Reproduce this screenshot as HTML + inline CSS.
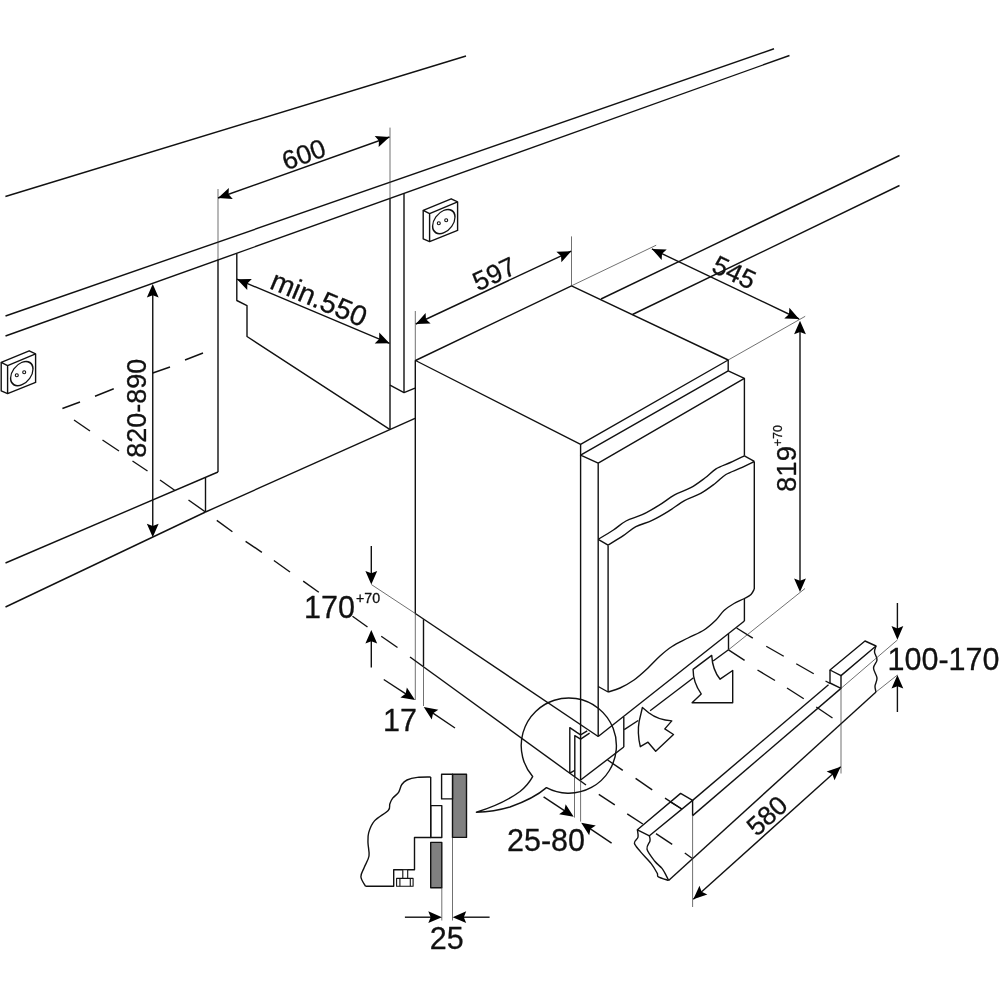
<!DOCTYPE html>
<html><head><meta charset="utf-8"><title>Installation dimensions</title>
<style>
html,body{margin:0;padding:0;background:#fff}
svg{display:block}
text{font-family:"Liberation Sans",sans-serif;fill:#111;stroke:#111;stroke-width:0.3px}
</style></head><body>
<div style="will-change:transform;width:1000px;height:1000px">
<svg width="1000" height="1000" viewBox="0 0 1000 1000" stroke-linecap="butt" stroke-linejoin="round">
<line x1="5.4" y1="196.5" x2="466" y2="56" stroke="#111" stroke-width="1.4" />
<line x1="5.5" y1="316" x2="774" y2="48.75" stroke="#111" stroke-width="1.4" />
<line x1="5.5" y1="336" x2="789.5" y2="55.5" stroke="#111" stroke-width="1.4" />
<line x1="601" y1="299" x2="899.5" y2="155.5" stroke="#111" stroke-width="1.4" />
<line x1="632.5" y1="314.5" x2="899.5" y2="185.5" stroke="#111" stroke-width="1.4" />
<line x1="218" y1="189" x2="218" y2="260" stroke="#333" stroke-width="0.7" />
<line x1="218" y1="259.5" x2="218" y2="472" stroke="#111" stroke-width="1.4" />
<line x1="5.5" y1="563" x2="218" y2="472" stroke="#111" stroke-width="1.4" />
<line x1="205.5" y1="477.7" x2="205.5" y2="512" stroke="#111" stroke-width="1.4" />
<line x1="5.5" y1="607" x2="205.5" y2="512" stroke="#111" stroke-width="1.4" />
<line x1="205.5" y1="512" x2="415" y2="418.4" stroke="#111" stroke-width="1.4" />
<path d="M236.8,253.5 L236.8,300.5 L247,305.6 L247,336.5 L389.7,429.3" stroke="#111" stroke-width="1.4" fill="none" />
<line x1="390" y1="127.6" x2="390" y2="199" stroke="#333" stroke-width="0.7" />
<line x1="390" y1="198.5" x2="390" y2="429.3" stroke="#111" stroke-width="1.4" />
<line x1="404" y1="193.5" x2="404" y2="392.6" stroke="#111" stroke-width="1.4" />
<path d="M390,385.2 L404,392.6 L415,388.2" stroke="#111" stroke-width="1.4" fill="none" />
<line x1="152.75" y1="290" x2="152.75" y2="530" stroke="#111" stroke-width="1.4" />
<polygon points="152.75,284.00 158.65,297.60 152.75,295.20 146.85,297.60" fill="#000"/>
<polygon points="152.75,537.30 146.85,523.70 152.75,526.10 158.65,523.70" fill="#000"/>
<text transform="translate(146,408.25) rotate(-90)" font-size="27" text-anchor="middle" >820-890</text>
<path d="M429.59999999999997,213.6 L423.2,210.4 L451.2,198.8 L457.59999999999997,201.8 L429.59999999999997,213.6 L429.59999999999997,241.6 L457.59999999999997,230.4 L457.59999999999997,201.8" stroke="#111" stroke-width="1.4" fill="none" />
<path d="M423.2,210.4 L423.2,238.8 L429.59999999999997,241.6" stroke="#111" stroke-width="1.4" fill="none" />
<g transform="translate(443.8,221.6) skewY(-21.8)"><circle r="11.2" fill="none" stroke="#111" stroke-width="1.4"/></g>
<circle cx="438.8" cy="223.2" r="1.5" fill="none" stroke="#111" stroke-width="1.1"/>
<circle cx="446.2" cy="220.2" r="1.5" fill="none" stroke="#111" stroke-width="1.1"/>
<path d="M7.6000000000000005,365.59999999999997 L1.2,362.4 L29.2,350.79999999999995 L35.6,353.79999999999995 L7.6000000000000005,365.59999999999997 L7.6000000000000005,393.59999999999997 L35.6,382.4 L35.6,353.79999999999995" stroke="#111" stroke-width="1.4" fill="none" />
<path d="M1.2,362.4 L1.2,390.79999999999995 L7.6000000000000005,393.59999999999997" stroke="#111" stroke-width="1.4" fill="none" />
<g transform="translate(21.8,373.59999999999997) skewY(-21.8)"><circle r="11.2" fill="none" stroke="#111" stroke-width="1.4"/></g>
<circle cx="16.8" cy="375.2" r="1.5" fill="none" stroke="#111" stroke-width="1.1"/>
<circle cx="24.2" cy="372.2" r="1.5" fill="none" stroke="#111" stroke-width="1.1"/>
<line x1="62.4" y1="408.5" x2="80" y2="402" stroke="#111" stroke-width="1.4" />
<line x1="95" y1="396.25" x2="113.75" y2="388.75" stroke="#111" stroke-width="1.4" />
<line x1="152.75" y1="373" x2="170" y2="367" stroke="#111" stroke-width="1.4" />
<line x1="185" y1="360" x2="203" y2="353" stroke="#111" stroke-width="1.4" />
<line x1="74" y1="420" x2="90" y2="431" stroke="#111" stroke-width="1.4" />
<line x1="102.5" y1="440" x2="119" y2="451" stroke="#111" stroke-width="1.4" />
<line x1="132.5" y1="461" x2="147.5" y2="471" stroke="#111" stroke-width="1.4" />
<line x1="160" y1="480" x2="175" y2="490.5" stroke="#111" stroke-width="1.4" />
<line x1="188.5" y1="500" x2="205.5" y2="512" stroke="#111" stroke-width="1.4" />
<line x1="216.8" y1="520.4" x2="232.4" y2="531.7" stroke="#111" stroke-width="1.4" />
<line x1="245.6" y1="541.3" x2="261.9" y2="552.3" stroke="#111" stroke-width="1.4" />
<line x1="273.9" y1="560.5" x2="290" y2="572" stroke="#111" stroke-width="1.4" />
<line x1="303.2" y1="581.1" x2="318.8" y2="592.2" stroke="#111" stroke-width="1.4" />
<line x1="352.5" y1="616.25" x2="367.5" y2="627" stroke="#111" stroke-width="1.4" />
<line x1="381.25" y1="636.25" x2="397.5" y2="647.5" stroke="#111" stroke-width="1.4" />
<line x1="218" y1="198" x2="389.5" y2="137" stroke="#111" stroke-width="1.4" />
<polygon points="389.50,137.00 378.66,147.12 378.95,140.75 374.71,136.00" fill="#000"/>
<polygon points="218.00,198.00 228.84,187.88 228.55,194.25 232.79,199.00" fill="#000"/>
<text transform="translate(306.86,162.99) rotate(-19.6)" font-size="26.5" text-anchor="middle" >600</text>
<line x1="237" y1="279.2" x2="389.5" y2="343.3" stroke="#111" stroke-width="1.4" />
<polygon points="389.50,343.30 374.68,343.47 379.18,338.96 379.25,332.59" fill="#000"/>
<polygon points="237.00,279.20 251.82,279.03 247.32,283.54 247.25,289.91" fill="#000"/>
<text transform="translate(315.2,307.7) rotate(22.8)" font-size="28.5" text-anchor="middle" >min.550</text>
<line x1="415.3" y1="311" x2="415.3" y2="360.5" stroke="#333" stroke-width="0.7" />
<line x1="415.3" y1="360.5" x2="415.3" y2="613.5" stroke="#111" stroke-width="1.4" />
<line x1="415.3" y1="613.5" x2="415.3" y2="700" stroke="#333" stroke-width="0.7" />
<path d="M415.5,360.5 L571.5,285.8 L728.2,360 L580.6,444.4 Z" stroke="#111" stroke-width="1.4" fill="none" />
<line x1="571.5" y1="236.4" x2="571.5" y2="285.8" stroke="#333" stroke-width="0.7" />
<line x1="571.5" y1="285.8" x2="656.2" y2="245.2" stroke="#333" stroke-width="0.7" />
<line x1="728.2" y1="360" x2="805.2" y2="316.3" stroke="#333" stroke-width="0.7" />
<line x1="728.2" y1="360" x2="728.2" y2="370.8" stroke="#111" stroke-width="1.4" />
<line x1="580.6" y1="444.4" x2="580.6" y2="780" stroke="#111" stroke-width="1.4" />
<path d="M728.2,370.8 L580.6,455.2 L598.2,463.2 L744.4,378.4 Z" stroke="#111" stroke-width="1.4" fill="none" />
<line x1="598.2" y1="463.2" x2="598.2" y2="736.5" stroke="#111" stroke-width="1.4" />
<line x1="744.4" y1="378.4" x2="744.4" y2="455.8" stroke="#111" stroke-width="1.4" />
<line x1="744.4" y1="599" x2="744.4" y2="621" stroke="#111" stroke-width="1.4" />
<path d="M598.2,539.3 C600.7,537.8 608.8,533.0 613.4,530.0 C618.0,527.0 621.2,523.5 626.0,521.0 C630.8,518.5 636.8,517.2 642.2,514.7 C647.6,512.2 653.0,509.0 658.4,505.7 C663.8,502.4 669.2,497.9 674.6,494.9 C680.0,491.9 685.7,490.5 690.8,487.7 C695.9,484.9 701.0,480.9 705.2,477.8 C709.4,474.7 711.8,471.4 716.0,468.8 C720.2,466.2 725.7,464.7 730.4,462.5 C735.1,460.3 742.1,456.9 744.4,455.8" stroke="#111" stroke-width="1.4" fill="none" />
<path d="M608.1,545.0 C610.6,543.5 618.7,538.8 623.3,535.7 C627.9,532.7 631.1,529.2 635.9,526.7 C640.7,524.2 646.7,523.0 652.1,520.4 C657.5,517.9 662.9,514.7 668.3,511.4 C673.7,508.1 679.1,503.6 684.5,500.6 C689.9,497.6 695.6,496.2 700.7,493.4 C705.8,490.5 710.9,486.6 715.1,483.5 C719.3,480.4 721.7,477.1 725.9,474.5 C730.1,471.9 735.6,470.4 740.3,468.2 C745.0,466.0 752.0,462.6 754.3,461.5" stroke="#111" stroke-width="1.4" fill="none" />
<line x1="598.2" y1="539.3" x2="608.1" y2="545.2" stroke="#111" stroke-width="1.4" />
<line x1="744.4" y1="455.8" x2="754.3" y2="461.4" stroke="#111" stroke-width="1.4" />
<line x1="608.1" y1="545.2" x2="608.1" y2="692" stroke="#111" stroke-width="1.4" />
<line x1="598.2" y1="686.5" x2="608.1" y2="692" stroke="#111" stroke-width="1.4" />
<line x1="754.3" y1="461.4" x2="754.3" y2="589" stroke="#111" stroke-width="1.4" />
<path d="M608.1,692.0 C610.1,691.3 615.7,690.0 620.0,688.0 C624.3,686.0 629.3,683.3 634.0,680.0 C638.7,676.7 643.7,672.0 648.0,668.0 C652.3,664.0 656.0,659.6 660.0,656.0 C664.0,652.4 667.3,649.5 672.0,646.5 C676.7,643.5 682.7,640.8 688.0,638.0 C693.3,635.2 699.3,633.0 704.0,630.0 C708.7,627.0 712.7,623.2 716.0,620.0 C719.3,616.8 721.0,613.2 724.0,610.5 C727.0,607.8 730.6,605.5 734.0,603.5 C737.4,601.5 741.6,600.0 744.4,598.5 C747.2,597.0 749.4,596.1 751.0,594.5 C752.6,592.9 753.8,589.9 754.3,589.0" stroke="#111" stroke-width="1.4" fill="none" />
<line x1="415.3" y1="613.5" x2="598.2" y2="736.5" stroke="#111" stroke-width="1.4" />
<line x1="598.2" y1="736.5" x2="744.4" y2="621" stroke="#111" stroke-width="1.4" />
<line x1="410" y1="657" x2="586" y2="785" stroke="#111" stroke-width="1.4" />
<line x1="423.5" y1="619.3" x2="423.5" y2="666" stroke="#111" stroke-width="1.4" />
<line x1="423.5" y1="666" x2="423.5" y2="706" stroke="#333" stroke-width="0.7" />
<line x1="580.6" y1="780" x2="623.8" y2="747" stroke="#111" stroke-width="1.4" />
<line x1="623.8" y1="717" x2="623.8" y2="747" stroke="#111" stroke-width="1.4" />
<line x1="624.2" y1="729.6" x2="638.2" y2="720.5" stroke="#111" stroke-width="1.4" />
<line x1="650.1" y1="710.7" x2="693.5" y2="677.8" stroke="#111" stroke-width="1.4" />
<line x1="713.1" y1="661" x2="728.5" y2="649.8" stroke="#111" stroke-width="1.4" />
<line x1="728.5" y1="634" x2="728.5" y2="649.8" stroke="#111" stroke-width="1.4" />
<line x1="736.6" y1="628" x2="752.8" y2="638.2" stroke="#111" stroke-width="1.4" />
<line x1="766.25" y1="646.25" x2="783.75" y2="656.25" stroke="#111" stroke-width="1.4" />
<line x1="796.25" y1="663.75" x2="813.75" y2="673.75" stroke="#111" stroke-width="1.4" />
<line x1="728.5" y1="649.8" x2="744.6" y2="660.3" stroke="#111" stroke-width="1.4" />
<line x1="757.5" y1="670" x2="775" y2="680.5" stroke="#111" stroke-width="1.4" />
<line x1="787" y1="688" x2="803.75" y2="698.75" stroke="#111" stroke-width="1.4" />
<line x1="816.25" y1="707" x2="832.5" y2="718" stroke="#111" stroke-width="1.4" />
<line x1="607.6" y1="760" x2="622.8" y2="770.4" stroke="#111" stroke-width="1.4" />
<line x1="635.6" y1="778.4" x2="652.2" y2="789.8" stroke="#111" stroke-width="1.4" />
<line x1="665" y1="798.2" x2="681.8" y2="809" stroke="#111" stroke-width="1.4" />
<line x1="598.8" y1="794.4" x2="614.8" y2="804.8" stroke="#111" stroke-width="1.4" />
<line x1="627.2" y1="813.8" x2="642.8" y2="824" stroke="#111" stroke-width="1.4" />
<line x1="656" y1="833.6" x2="672.2" y2="844.4" stroke="#111" stroke-width="1.4" />
<line x1="684.8" y1="853" x2="692" y2="858.2" stroke="#111" stroke-width="1.4" />
<path d="M711.7,655.4 Q712.5,670 720.1,679.2 L732.7,670.5 L732.7,702.7 L692.1,702.7 L701.2,693.9 Q693,682 693.1,669.4 Z" stroke="#111" stroke-width="1.4" fill="#fff" />
<path d="M642.4,707.5 L648.7,712.8 Q658,720 671.8,720.9 L664.8,728.9 L673.5,734.5 L655.7,751.3 L648,742.2 L640.3,746.7 Q637,733 639.2,721.2 Z" stroke="#111" stroke-width="1.4" fill="#fff" />
<path d="M569.8,773.2 L569.8,727.6 L576.8,732.4 L580.6,734.8 L587.2,730.8" stroke="#111" stroke-width="1.4" fill="none" />
<path d="M574.8,776.8 L574.8,735.6 L580.6,739.2 L589.6,733.2" stroke="#111" stroke-width="1.4" fill="none" />
<line x1="569.8" y1="773.2" x2="574.8" y2="770.4" stroke="#111" stroke-width="1.4" />
<line x1="574.5" y1="776.8" x2="574.5" y2="817.6" stroke="#333" stroke-width="0.7" />
<line x1="580.6" y1="780" x2="580.6" y2="821.6" stroke="#333" stroke-width="0.7" />
<path d="M532.66,776.58 A47.6,47.6 0 1 1 546.45,787.63 Q534,798.5 510,807 Q494,811.8 476.4,812.2 Q503,804 520,791.5 Q528,785 532.66,776.58 Z" fill="none" stroke="#111" stroke-width="1.4"/>
<line x1="415.8" y1="324" x2="571.2" y2="251.2" stroke="#111" stroke-width="1.4" />
<polygon points="571.20,251.20 561.39,262.31 561.06,255.95 556.38,251.63" fill="#000"/>
<polygon points="415.80,324.00 425.61,312.89 425.94,319.25 430.62,323.57" fill="#000"/>
<text transform="translate(498.07,282.06) rotate(-25.1)" font-size="26.5" text-anchor="middle" >597</text>
<line x1="651.9" y1="248.9" x2="799.1" y2="319" stroke="#111" stroke-width="1.4" />
<polygon points="799.10,319.00 784.28,318.48 788.99,314.18 789.36,307.83" fill="#000"/>
<polygon points="651.90,248.90 666.72,249.42 662.01,253.72 661.64,260.07" fill="#000"/>
<text transform="translate(730.29,280.63) rotate(25.4)" font-size="26.5" text-anchor="middle" >545</text>
<line x1="800" y1="327" x2="800" y2="585" stroke="#111" stroke-width="1.4" />
<polygon points="800.00,320.70 805.90,334.30 800.00,331.90 794.10,334.30" fill="#000"/>
<polygon points="800.00,592.00 794.10,578.40 800.00,580.80 805.90,578.40" fill="#000"/>
<text transform="translate(796.3,469) rotate(-90)" font-size="27.5" text-anchor="middle" >819</text>
<text transform="translate(781.6,435.7) rotate(-90)" font-size="12.5" text-anchor="middle"  stroke-width="0.1">+70</text>
<line x1="728.5" y1="649.8" x2="805" y2="588.5" stroke="#333" stroke-width="0.7" />
<line x1="371.3" y1="546" x2="371.3" y2="578" stroke="#111" stroke-width="1.4" />
<polygon points="371.30,584.50 365.40,570.90 371.30,573.30 377.20,570.90" fill="#000"/>
<line x1="371.3" y1="667.5" x2="371.3" y2="636" stroke="#111" stroke-width="1.4" />
<polygon points="371.30,630.00 377.20,643.60 371.30,641.20 365.40,643.60" fill="#000"/>
<line x1="371.3" y1="584.5" x2="415.3" y2="613.5" stroke="#333" stroke-width="0.7" />
<text transform="translate(329.5,618.0) scale(0.985,1)" font-size="31" text-anchor="middle" >170</text>
<text transform="translate(368,602.5) scale(1.02,1)" font-size="14" text-anchor="middle"  stroke-width="0.1">+70</text>
<line x1="383.75" y1="679.5" x2="410" y2="696.7" stroke="#111" stroke-width="1.4" />
<polygon points="415.00,700.00 400.39,697.47 405.64,693.86 406.86,687.61" fill="#000"/>
<line x1="455" y1="728" x2="428.5" y2="710.2" stroke="#111" stroke-width="1.4" />
<polygon points="423.75,707.00 438.33,709.69 433.05,713.25 431.75,719.48" fill="#000"/>
<text transform="translate(400,731.0) scale(0.985,1)" font-size="31" text-anchor="middle" >17</text>
<line x1="543.6" y1="796.8" x2="568.5" y2="813.4" stroke="#111" stroke-width="1.4" />
<polygon points="573.70,816.80 559.11,814.19 564.37,810.60 565.64,804.36" fill="#000"/>
<line x1="611.6" y1="843.2" x2="586.3" y2="826.2" stroke="#111" stroke-width="1.4" />
<polygon points="581.20,822.70 595.77,825.41 590.49,828.96 589.18,835.20" fill="#000"/>
<text transform="translate(546,850.9) scale(0.985,1)" font-size="31" text-anchor="middle" >25-80</text>
<rect x="452.5" y="774.2" width="14" height="63.2" fill="#808080" stroke="#111" stroke-width="1.4"/>
<rect x="441.6" y="774.2" width="10.9" height="24.7" fill="#fff" stroke="#111" stroke-width="1.4"/>
<rect x="430.7" y="805.6" width="11.1" height="31.9" fill="#fff" stroke="#111" stroke-width="1.4"/>
<rect x="430.7" y="842.4" width="11.1" height="45.3" fill="#808080" stroke="#111" stroke-width="1.4"/>
<path d="M430.7,777.0 C428.5,777.1 421.3,776.9 417.4,777.4 C413.4,777.9 409.6,778.8 407.0,780.0 C404.4,781.2 403.2,782.5 401.8,784.5 C400.4,786.5 400.1,790.0 398.6,792.3 C397.1,794.6 394.2,796.2 392.7,798.2 C391.2,800.2 390.6,802.0 389.8,804.0 C389.1,806.0 390.8,807.7 388.2,810.5 C385.6,813.3 377.8,817.2 374.5,820.9 C371.2,824.6 369.8,828.9 368.7,832.6 C367.6,836.3 367.9,839.1 368.0,843.0 C368.1,846.9 369.6,851.9 369.0,856.0 C368.4,860.1 365.5,864.2 364.1,867.7 C362.8,871.2 360.7,873.7 360.9,876.8 C361.1,879.9 364.6,884.6 365.4,886.2" stroke="#111" stroke-width="1.4" fill="none" />
<path d="M365.4,886.2 L393.7,886.2 L393.7,869.7 L414.5,869.7 L414.5,837.5 L430.7,837.5 L430.7,777" stroke="#111" stroke-width="1.4" fill="none" />
<rect x="396.6" y="878.4" width="16.5" height="7.8" fill="#fff" stroke="#111" stroke-width="1.1"/>
<line x1="399.9" y1="878.4" x2="399.9" y2="886.2" stroke="#111" stroke-width="1.1" />
<line x1="410.3" y1="878.4" x2="410.3" y2="886.2" stroke="#111" stroke-width="1.1" />
<rect x="402.8" y="869.7" width="4.9" height="8.7" fill="#fff" stroke="#111" stroke-width="1.1"/>
<line x1="441.8" y1="887.7" x2="441.8" y2="920.5" stroke="#333" stroke-width="0.7" />
<line x1="452.5" y1="837.4" x2="452.5" y2="920.5" stroke="#333" stroke-width="0.7" />
<line x1="404.9" y1="917.2" x2="436" y2="917.2" stroke="#111" stroke-width="1.4" />
<polygon points="441.90,917.20 428.30,923.10 430.70,917.20 428.30,911.30" fill="#000"/>
<line x1="489.6" y1="917.2" x2="458.5" y2="917.2" stroke="#111" stroke-width="1.4" />
<polygon points="452.60,917.20 466.20,911.30 463.80,917.20 466.20,923.10" fill="#000"/>
<text transform="translate(446.7,948.5) scale(0.985,1)" font-size="31" text-anchor="middle" >25</text>
<path d="M830,670 L865,641 L876,646 L841,675.6 Z" stroke="#111" stroke-width="1.4" fill="none" />
<path d="M830,670 L830,683 L841,688.4 L841,675.6" stroke="#111" stroke-width="1.4" fill="none" />
<path d="M876.0,646.0 C875.8,647.0 874.3,649.7 874.5,652.0 C874.7,654.3 877.2,657.3 877.0,660.0 C876.8,662.7 873.5,665.0 873.5,668.0 C873.5,671.0 876.8,675.0 877.0,678.0 C877.2,681.0 875.2,683.7 875.0,686.0 C874.8,688.3 875.8,691.0 876.0,692.0" stroke="#111" stroke-width="1.4" fill="none" />
<line x1="828.5" y1="684.8" x2="692.6" y2="800.4" stroke="#111" stroke-width="1.4" />
<line x1="825.5" y1="681" x2="830" y2="683.4" stroke="#111" stroke-width="1.4" />
<line x1="840.7" y1="688.6" x2="692.6" y2="815.6" stroke="#111" stroke-width="1.4" />
<line x1="876" y1="692" x2="668.6" y2="880.4" stroke="#111" stroke-width="1.4" />
<line x1="692.6" y1="800.4" x2="692.6" y2="815.6" stroke="#111" stroke-width="1.4" />
<line x1="692.6" y1="815.6" x2="692.6" y2="907" stroke="#333" stroke-width="0.7" />
<line x1="841" y1="688.4" x2="841" y2="773.5" stroke="#333" stroke-width="0.7" />
<path d="M637.4,829.8 L680.6,793.4 L692.6,800.4 L649.4,835.8 Z" stroke="#111" stroke-width="1.4" fill="none" />
<line x1="670.4" y1="801.8" x2="681.8" y2="809" stroke="#111" stroke-width="1.4" />
<path d="M637.4,829.8 C637.5,831.0 638.5,835.0 638.0,837.2 C637.5,839.4 634.0,840.8 634.4,843.2 C634.8,845.6 637.6,848.2 640.4,851.6 C643.2,855.0 648.4,860.0 651.2,863.6 C654.0,867.2 656.0,871.0 657.2,873.2 C658.4,875.4 656.5,875.6 658.4,876.8 C660.3,878.0 666.9,879.8 668.6,880.4" stroke="#111" stroke-width="1.4" fill="none" />
<path d="M649.4,835.8 C649.5,836.6 650.4,838.6 650.0,840.8 C649.6,843.0 646.2,845.8 647.0,849.2 C647.8,852.6 652.3,858.0 654.8,861.2 C657.3,864.4 660.1,866.0 662.0,868.4 C663.9,870.8 665.1,873.6 666.2,875.6 C667.3,877.6 668.2,879.6 668.6,880.4" stroke="#111" stroke-width="1.4" fill="none" />
<line x1="897.4" y1="603" x2="897.4" y2="633" stroke="#111" stroke-width="1.4" />
<polygon points="897.40,639.70 891.50,626.10 897.40,628.50 903.30,626.10" fill="#000"/>
<line x1="897.4" y1="712" x2="897.4" y2="681" stroke="#111" stroke-width="1.4" />
<polygon points="897.40,675.00 903.30,688.60 897.40,686.20 891.50,688.60" fill="#000"/>
<line x1="841" y1="688.4" x2="897.4" y2="640" stroke="#333" stroke-width="0.7" />
<line x1="876" y1="692" x2="897.4" y2="675" stroke="#333" stroke-width="0.7" />
<text transform="translate(943.5,669.5) scale(0.985,1)" font-size="31" text-anchor="middle" >100-170</text>
<line x1="693.3" y1="899.3" x2="840.7" y2="766.8" stroke="#111" stroke-width="1.4" />
<polygon points="840.70,766.80 834.53,780.28 832.37,774.29 826.64,771.50" fill="#000"/>
<polygon points="693.30,899.30 699.47,885.82 701.63,891.81 707.36,894.60" fill="#000"/>
<text transform="translate(773.1,822.37) rotate(-42)" font-size="26.5" text-anchor="middle" >580</text>
</svg>
</div>
</body></html>
